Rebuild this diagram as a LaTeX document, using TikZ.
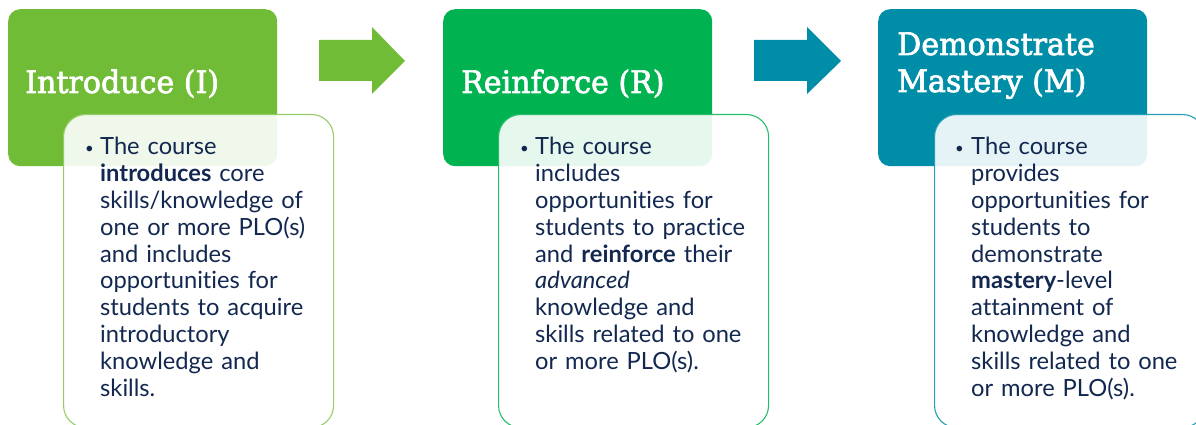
\documentclass[tikz,border=0pt]{standalone}
\usepackage{fontspec}
\setmainfont[Ligatures={NoCommon}]{Lato}
\newfontfamily\titlefont[FakeStretch=0.97,FakeBold=2.2]{DejaVu Serif}
\definecolor{introgreen}{RGB}{112,188,54}
\definecolor{reingreen}{RGB}{0,178,80}
\definecolor{mastteal}{RGB}{0,141,167}
\definecolor{bodyink}{RGB}{18,40,80}

\tikzset{
  header/.style={rectangle, rounded corners=12pt, draw=none, anchor=north west,
    minimum width=269pt, minimum height=157pt, inner sep=0pt},
  title/.style={anchor=base west, inner sep=0pt, text=white,
    font=\titlefont\fontsize{31}{37}\selectfont, align=left},
  card/.style={rectangle, rounded corners=22pt, fill=white, fill opacity=0.9,
    line width=1.1pt, anchor=north west, minimum width=270pt,
    minimum height=313pt, inner sep=0pt},
  body/.style={anchor=base west, inner sep=0pt, text=bodyink, text width=250pt,
    align=left, font=\fontsize{23.7}{26.8}\selectfont},
  bullet/.style={anchor=base west, inner sep=0pt, text=bodyink,
    font=\fontsize{15}{18}\selectfont}
}

\begin{document}
\begin{tikzpicture}[x=1pt,y=1pt]
\useasboundingbox (0,0) rectangle (1196,425);
\clip (0,0) rectangle (1196,425);

% stage headers
\node[header, fill=introgreen] (hI) at (8,416) {};
\node[header, fill=reingreen]  (hR) at (443,416) {};
\node[header, fill=mastteal]   (hM) at (878,416) {};

\node[title] (tI) at (25,332) {Introduce (I)};
\node[title] (tR) at (461,332) {Reinforce (R)};
\node[title] (tM) at (897,333) {Demonstrate\\Mastery (M)};

% arrows between the stages
\fill[introgreen] (319,385) -- (372,385) -- (372,398) -- (405,364)
  -- (372,331) -- (372,344) -- (319,344) -- cycle;
\fill[mastteal] (754,385) -- (807,385) -- (807,398) -- (841,364)
  -- (807,331) -- (807,344) -- (754,344) -- cycle;

% description cards
\node[card, draw=introgreen!75] (cI) at (63,311) {};
\node[card, draw=reingreen!85]  (cR) at (498,311) {};
\node[card, draw=mastteal!85]   (cM) at (934,311) {};

\node[bullet] (uI) at (85,271) {\textbullet};
\node[body] (bI) at (100,270) {The course\\
  \textbf{introduces} core\\
  skills/knowledge of\\
  one or more PLO(s)\\
  and includes\\
  opportunities for\\
  students to acquire\\
  introductory\\
  knowledge and\\
  skills.};

\node[bullet] (uR) at (520,271) {\textbullet};
\node[body] (bR) at (535,270) {The course\\
  includes\\
  opportunities for\\
  students to practice\\
  and \textbf{reinforce} their\\
  \textit{advanced}\\
  knowledge and\\
  skills related to one\\
  or more PLO(s).};

\node[bullet] (uM) at (955,271) {\textbullet};
\node[body] (bM) at (971,270) {The course\\
  provides\\
  opportunities for\\
  students to\\
  demonstrate\\
  \textbf{mastery}-level\\
  attainment of\\
  knowledge and\\
  skills related to one\\
  or more PLO(s).};
\end{tikzpicture}
\end{document}
